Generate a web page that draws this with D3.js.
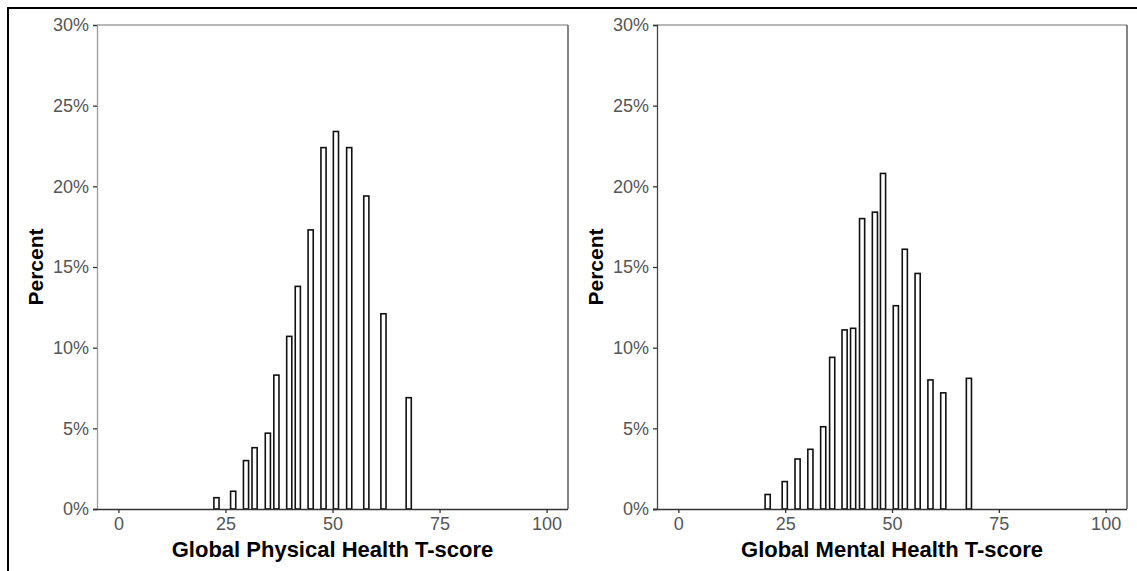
<!DOCTYPE html>
<html><head><meta charset="utf-8">
<script src="https://cdn.jsdelivr.net/npm/d3@7"></script>
<style>
body{margin:0;background:#fff;}
svg{display:block;font-family:"Liberation Sans",Arial,sans-serif;}
</style></head>
<body><svg id="c" width="1137" height="571"></svg>
<script>
// ---- data ----
const physScores = [22.9, 26.8, 29.8, 31.8, 34.9, 36.9, 39.9, 41.9, 44.9, 47.9, 50.8, 53.9, 57.9, 61.9, 67.8];
const physPercent = [0.7, 1.1, 3.0, 3.8, 4.7, 8.3, 10.7, 13.8, 17.3, 22.4, 23.4, 22.4, 19.4, 12.1, 6.9];
const mentScores = [20.9, 24.9, 27.9, 30.9, 33.9, 36.0, 38.9, 40.9, 43.0, 46.0, 47.9, 50.9, 53.0, 56.0, 59.0, 62.0, 68.0];
const mentPercent = [0.9, 1.7, 3.1, 3.7, 5.1, 9.4, 11.1, 11.2, 18.0, 18.4, 20.8, 12.6, 16.1, 14.6, 8.0, 7.2, 8.1];
const xTicks = [0, 25, 50, 75, 100];
const yTicks = [0, 5, 10, 15, 20, 25, 30];
const titles = ["Global Physical Health T-score", "Global Mental Health T-score"];
const yTitle = "Percent";

const svg = d3.select("#c");
// outer frame (top + left visible)
svg.append("rect").attr("x", 8).attr("y", 8).attr("width", 1140).attr("height", 580)
  .attr("fill", "none").attr("stroke", "#000").attr("stroke-width", 2);

const panels = [
  {x0: 97, x1: 568, scores: physScores, pct: physPercent, title: titles[0], leftCol: "#9a9a9a"},
  {x0: 657, x1: 1127, scores: mentScores, pct: mentPercent, title: titles[1], leftCol: "#444"}
];
const yTop = 25, yBot = 509;
const barW = 1.2;

panels.forEach(p => {
  const x = d3.scaleLinear().domain([-5, 105]).range([p.x0, p.x1]);
  const y = d3.scaleLinear().domain([0, 30]).range([yBot, yTop]);
  const g = svg.append("g");

  // bars
  g.selectAll("rect.bar").data(p.scores.map((s, i) => ({s, v: p.pct[i]})))
    .enter().append("rect").attr("class", "bar")
    .attr("x", d => x(d.s - barW / 2))
    .attr("width", d => x(d.s + barW / 2) - x(d.s - barW / 2))
    .attr("y", d => y(d.v))
    .attr("height", d => y(0) - y(d.v))
    .attr("fill", "#fff").attr("stroke", "#111").attr("stroke-width", 1.6);

  // panel border lines
  g.append("line").attr("x1", p.x0).attr("x2", p.x1).attr("y1", yTop).attr("y2", yTop)
    .attr("stroke", "#a0a0a0").attr("stroke-width", 1.3);
  g.append("line").attr("x1", p.x1).attr("x2", p.x1).attr("y1", yTop).attr("y2", yBot)
    .attr("stroke", "#444").attr("stroke-width", 1.3);

  // axes
  const ya = g.append("g").attr("transform", `translate(${p.x0},0)`)
    .call(d3.axisLeft(y).tickValues(yTicks).tickFormat(d => d + "%").tickSize(4).tickPadding(4));
  ya.select(".domain").attr("stroke", p.leftCol).attr("stroke-width", 1.3);
  ya.selectAll(".tick line").attr("stroke", "#333").attr("stroke-width", 1.3);
  ya.selectAll(".tick text").attr("fill", "#555").style("font-size", "18px")
    .style("font-family", "'Liberation Sans',Arial,sans-serif");

  const xa = g.append("g").attr("transform", `translate(0,${yBot})`)
    .call(d3.axisBottom(x).tickValues(xTicks).tickSize(4).tickPadding(4));
  xa.select(".domain").attr("stroke", "#333").attr("stroke-width", 1.5).attr("d", `M${p.x0 - 4},0.5H${p.x1}`);
  xa.selectAll(".tick line").attr("stroke", "#333").attr("stroke-width", 1.3);
  xa.selectAll(".tick text").attr("fill", "#555").style("font-size", "18px")
    .style("font-family", "'Liberation Sans',Arial,sans-serif");

  // titles
  g.append("text").attr("x", (p.x0 + p.x1) / 2).attr("y", 557).attr("text-anchor", "middle")
    .style("font-size", "22px").style("font-weight", "bold").attr("fill", "#000").text(p.title);
  g.append("text").attr("transform", `translate(${p.x0 - 54},${(yTop + yBot) / 2}) rotate(-90)`)
    .attr("text-anchor", "middle")
    .style("font-size", "21px").style("font-weight", "bold").attr("fill", "#000").text(yTitle);
});
</script></body></html>
